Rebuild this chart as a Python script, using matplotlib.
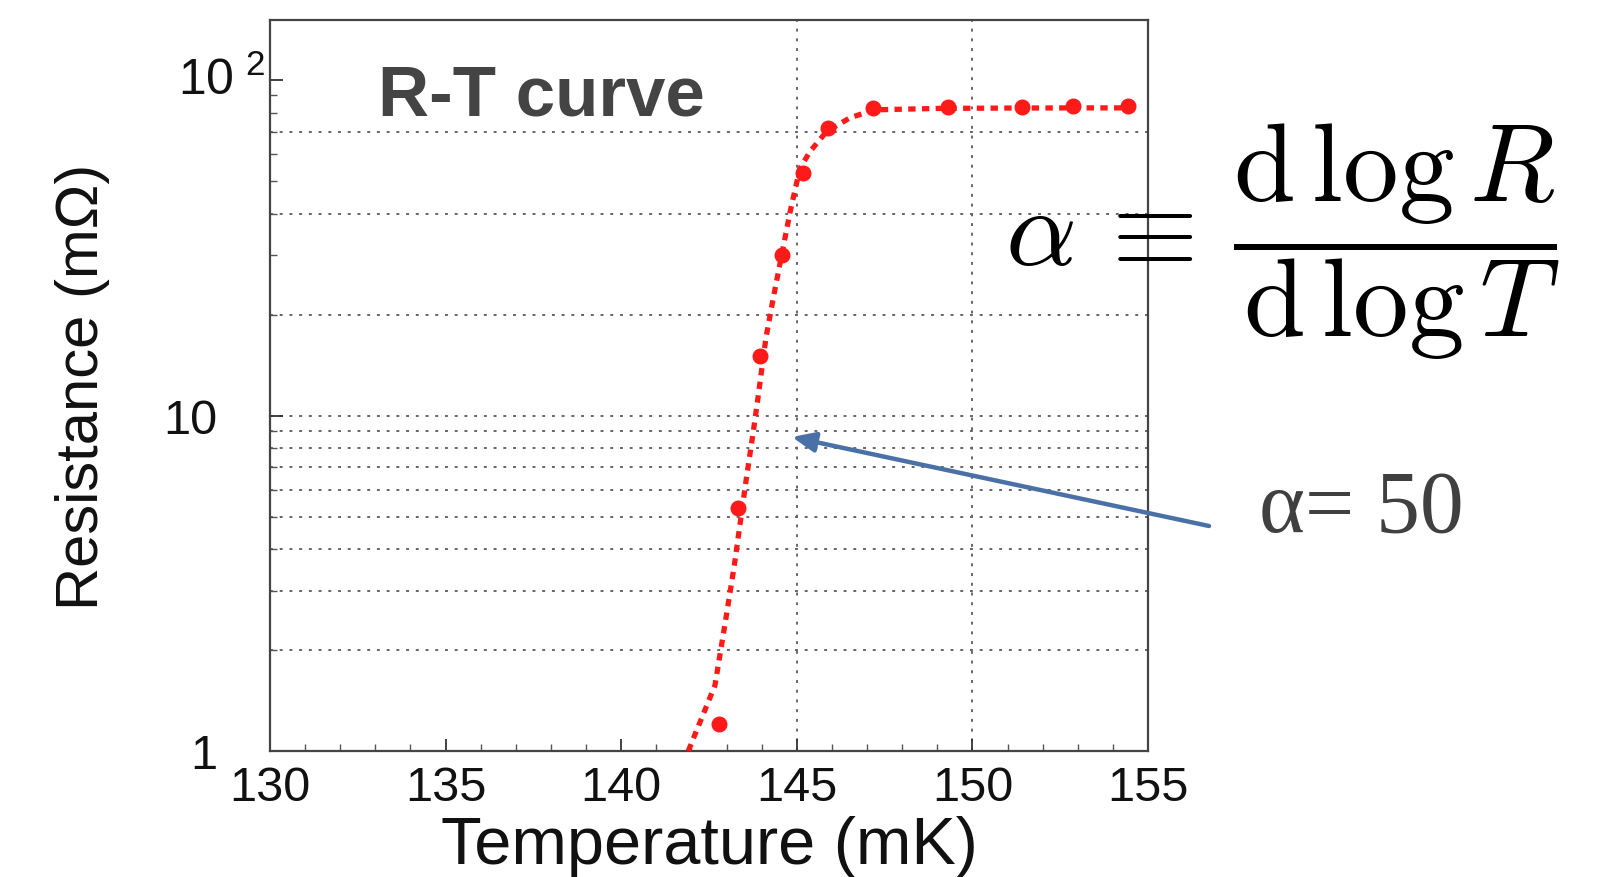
import matplotlib.pyplot as plt
from matplotlib.ticker import FixedLocator, MultipleLocator, NullFormatter

# measured points (mK, mOhm)
pts_T = [142.79, 143.33, 143.95, 144.57, 145.18, 145.90, 147.18, 149.31, 151.40, 152.87, 154.43]
pts_R = [1.20, 5.3, 15.0, 30.1, 52.8, 71.9, 82.5, 82.9, 82.9, 83.5, 83.5]

# fitted curve
curve_T = [141.91, 142.67, 142.98, 143.22, 143.55, 143.76, 143.88, 144.12, 144.33, 144.81,
           145.09, 145.38, 145.85, 146.51, 147.18, 149.0, 151.0, 153.0, 154.8]
curve_R = [1.0, 1.57, 2.48, 3.57, 6.34, 8.94, 11.0, 17.0, 22.4, 40.5,
           54.6, 61.3, 70.3, 77.1, 81.5, 82.3, 82.5, 82.6, 82.6]

x_ticks = [130, 135, 140, 145, 150, 155]
y_ticks = [1, 10, 100]
y_ticklabels = ['1', '10', '']
grid_y = [2, 3, 4, 5, 6, 7, 8, 9, 10, 20, 40, 70]
grid_x = [145, 150]

plt.rcParams['font.family'] = ['Liberation Sans', 'DejaVu Sans']

fig = plt.figure(figsize=(15.99, 8.78), dpi=100)
ax = fig.add_axes([270 / 1599, 126 / 878, 878 / 1599, 731 / 878])

red = '#ff1a1a'
grid_kw = dict(color='#666666', lw=1.4, ls=(0, (1.5, 3.5)), zorder=1)
for g in grid_y:
    ax.axhline(g, **grid_kw)
for g in grid_x:
    ax.axvline(g, **grid_kw)

ax.plot(curve_T, curve_R, color=red, lw=3.8, dashes=(1.4, 1.2), zorder=3)
ax.plot(pts_T, pts_R, 'o', color=red, ms=10.5, zorder=4)

ax.set_yscale('log')
ax.set_xlim(130, 155)
ax.set_ylim(1, 151)

ax.set_xticks(x_ticks)
ax.xaxis.set_minor_locator(MultipleLocator(1))
ax.set_yticks(y_ticks, labels=y_ticklabels)
ax.yaxis.set_minor_locator(FixedLocator([2, 3, 4, 5, 6, 7, 8, 9, 20, 30, 40, 50, 60, 70, 80, 90]))
ax.yaxis.set_minor_formatter(NullFormatter())

ax.tick_params(axis='x', which='major', direction='in', length=9, width=1.3,
               labelsize=35, pad=10, colors='#333333', labelcolor='#111111')
ax.tick_params(axis='y', which='major', direction='in', length=9, width=1.3,
               labelsize=35, pad=38, colors='#333333', labelcolor='#111111')
ax.tick_params(which='minor', direction='in', length=5, width=1.0, colors='#555555')
for lab in ax.get_yticklabels():
    lab.set_horizontalalignment('right')

# 10^2 label drawn separately (wider gap before the exponent, as in the original)
ax.text(-0.005, 100, r'$\mathregular{10^{\ 2}}$', transform=ax.get_yaxis_transform(),
        ha='right', va='center', fontsize=36, color='#111111')

for s in ax.spines.values():
    s.set_color('#444444')
    s.set_linewidth(1.6)

ax.set_xlabel('Temperature (mK)', fontsize=48, color='#111111')
ax.set_ylabel('Resistance (m\u03a9)', fontsize=43, color='#111111')
ax.xaxis.set_label_coords(0.5, -0.088)
ax.yaxis.set_label_coords(-0.182, 0.5)

fig.text(378 / 1599, 1 - 115 / 878, 'R-T curve', fontsize=51, fontweight='bold',
         color='#444444', ha='left', va='baseline')

plt.rcParams['mathtext.fontset'] = 'cm'
fig.text(1005 / 1599, 1 - 242 / 878,
         r'$\alpha\,\equiv\,\dfrac{\mathrm{d}\,\log R}{\mathrm{d}\,\log T}$',
         fontsize=80, color='black', ha='left', va='center')

fig.text(1259 / 1599, 1 - 532 / 878, '\u03b1= 50', fontsize=63, color='#404040',
         family='Liberation Serif', ha='left', va='baseline')

ax.annotate('', xy=(144.86, 8.63), xycoords='data',
            xytext=(1209, 878 - 527), textcoords='figure pixels',
            arrowprops=dict(arrowstyle='-|>,head_length=1.4,head_width=0.6',
                            color='#4a70a8', lw=3.2, shrinkA=0, shrinkB=0),
            annotation_clip=False)

fig.savefig('out.png', dpi=100)
